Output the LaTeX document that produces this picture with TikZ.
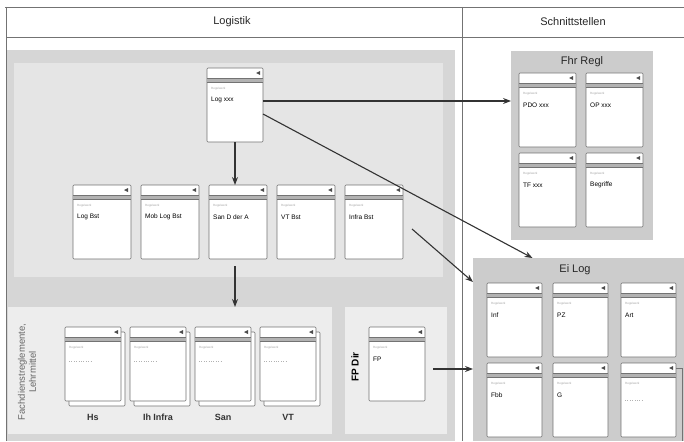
\documentclass[tikz,border=0pt]{standalone}
\usepackage{fontspec}
\setmainfont{Liberation Sans}
\usetikzlibrary{arrows.meta, positioning}

\definecolor{bandgrey}{gray}{0.84}
\definecolor{uppergrey}{gray}{0.90}
\definecolor{lowgrey}{gray}{0.93}
\definecolor{ifgrey}{gray}{0.80}
\definecolor{linegrey}{gray}{0.45}

\tikzset{
  boxshape/.style={draw=linegrey, fill=white, rounded corners=1pt, line width=0.6pt,
    inner sep=0pt, outer sep=0pt, minimum height=74pt, anchor=north west},
  panel/.style={inner sep=0pt, outer sep=0pt, anchor=north west},
  boxtext/.style={anchor=west, inner sep=0pt, font=\fontsize{6.5}{7}\selectfont},
  tagtext/.style={anchor=west, inner sep=0pt, text=gray!70, font=\fontsize{3}{3}\selectfont},
  dots/.style={gray!60, dotted, line width=0.4pt},
  arr/.style={-{Stealth[length=8pt,width=6pt]}, line width=1.1pt, draw=black!80},
  title/.style={font=\fontsize{11}{13}\selectfont, text=black!85},
  grouplabel/.style={font=\bfseries\fontsize{9}{11}\selectfont, text=black!80},
}

% name, x, y (top left), width, text
\newcommand{\regbox}[5]{%
  \node[boxshape, minimum width=#4pt] (#1) at (#2,#3) {};
  \fill[gray!60] (#2+0.3,#3+10) rectangle (#2+#4-0.3,#3+14);
  \draw[linegrey, line width=0.4pt] (#2,#3+10) -- (#2+#4,#3+10) (#2,#3+14) -- (#2+#4,#3+14);
  \fill[black!70] (#2+#4-7,#3+5) -- (#2+#4-3,#3+3) -- (#2+#4-3,#3+7) -- cycle;
  \node[tagtext] (#1-tag) at (#2+4,#3+21) {Regelwerk};
  \node[boxtext] (#1-text) at (#2+4,#3+32) {#5};
}

% name, x, y, label
\newcommand{\stackbox}[4]{%
  \draw[linegrey, fill=white, rounded corners=1pt, line width=0.6pt] (#2+4,#3+5) rectangle (#2+60,#3+79);
  \regbox{#1}{#2}{#3}{56}{}
  \draw[dots] (#2+4,#3+34) -- (#2+26,#3+34);
  \node[grouplabel] (#1-label) at (#2+28,#3+90) {#4};
}

\begin{document}
\begin{tikzpicture}[x=1pt, y=-1pt]
    \useasboundingbox (0,0) rectangle (684,441);

    % Logistik area
    \fill[bandgrey] (7,50) rectangle (455,441);
    \node[panel, fill=uppergrey, minimum width=429pt, minimum height=214pt] (upper) at (14,63) {};
    \node[panel, fill=lowgrey, minimum width=324pt, minimum height=127pt] (lowleft) at (8,307) {};
    \node[panel, fill=lowgrey, minimum width=102pt, minimum height=127pt] (lowright) at (345,307) {};

    % frame
    \draw[linegrey, line width=0.8pt] (5,7) -- (684,7) (6,7) -- (6,441) (6,37) -- (684,37) (462,7) -- (462,441);
    \node[title] (logistik) at (232,22) {Logistik};
    \node[title] (schnitt) at (573,22) {Schnittstellen};

    % Schnittstellen panels
    \node[panel, fill=ifgrey, minimum width=142pt, minimum height=189pt] (fhr) at (511,51) {};
    \node[title] (fhrtitle) at (582,62) {Fhr Regl};
    \node[panel, fill=ifgrey, minimum width=211pt, minimum height=183pt] (eilog) at (473,258) {};
    \node[title] (eititle) at (575,270) {Ei Log};

    % rule boxes
    \regbox{log}{207}{68}{56}{Log xxx}
    \foreach \n/\x/\t in {logbst/73/Log Bst, mob/141/Mob Log Bst, san/209/San D der A, vt/277/VT Bst, infra/345/Infra Bst}
    {\regbox{\n}{\x}{185}{58}{\t}}

    \regbox{pdo}{519}{73}{57}{PDO xxx}
    \regbox{op}{586}{73}{57}{OP xxx}
    \regbox{tf}{519}{153}{57}{TF xxx}
    \regbox{begriffe}{586}{153}{57}{Begriffe}

    \regbox{inf}{487}{283}{55}{Inf}
    \regbox{pz}{553}{283}{55}{PZ}
    \regbox{art}{621}{283}{55}{Art}
    \regbox{fbb}{487}{363}{55}{Fbb}
    \regbox{g}{553}{363}{55}{G}
    \regbox{misc}{621}{363}{55}{}
    \draw[dots] (625,400) -- (644,400);

    \stackbox{hs}{65}{327}{Hs}
    \stackbox{ih}{130}{327}{Ih Infra}
    \stackbox{sanl}{195}{327}{San}
    \stackbox{vtl}{260}{327}{VT}
    \regbox{fp}{369}{327}{56}{FP}

    \node[rotate=90, align=center, font=\fontsize{9.5}{11}\selectfont, text=black!60] (fachdienst) at (27,372) {Fachdienstreglemente,\\Lehrmittel};
    \node[rotate=90, font=\bfseries\fontsize{10}{12}\selectfont] (fpdir) at (355,367) {FP Dir};

    % connectors
    \coordinate (logout) at ([yshift=4pt]log.east);
    \draw[arr] (logout) -- (logout -| fhr.west);
    \draw[arr] ([yshift=-9pt]log.east) -- ([xshift=-46pt]eilog.north);
    \draw[arr] (log.south) -- (log.south |- san.north);
    \coordinate (bandtop) at (235,266);
    \draw[arr] (bandtop) -- (bandtop |- lowleft.north);
    \draw[arr] ([xshift=9pt,yshift=-7pt]infra.east) -- ([yshift=-24pt]eilog.north west);
    \coordinate (fpout) at ([xshift=8pt,yshift=-5pt]fp.east);
    \draw[arr] (fpout) -- (fpout -| eilog.west);
    \coordinate (miscend) at (682,441);
    \draw[linegrey, line width=0.6pt] ([yshift=-5pt]misc.north east) -| (miscend);
\end{tikzpicture}
\end{document}
